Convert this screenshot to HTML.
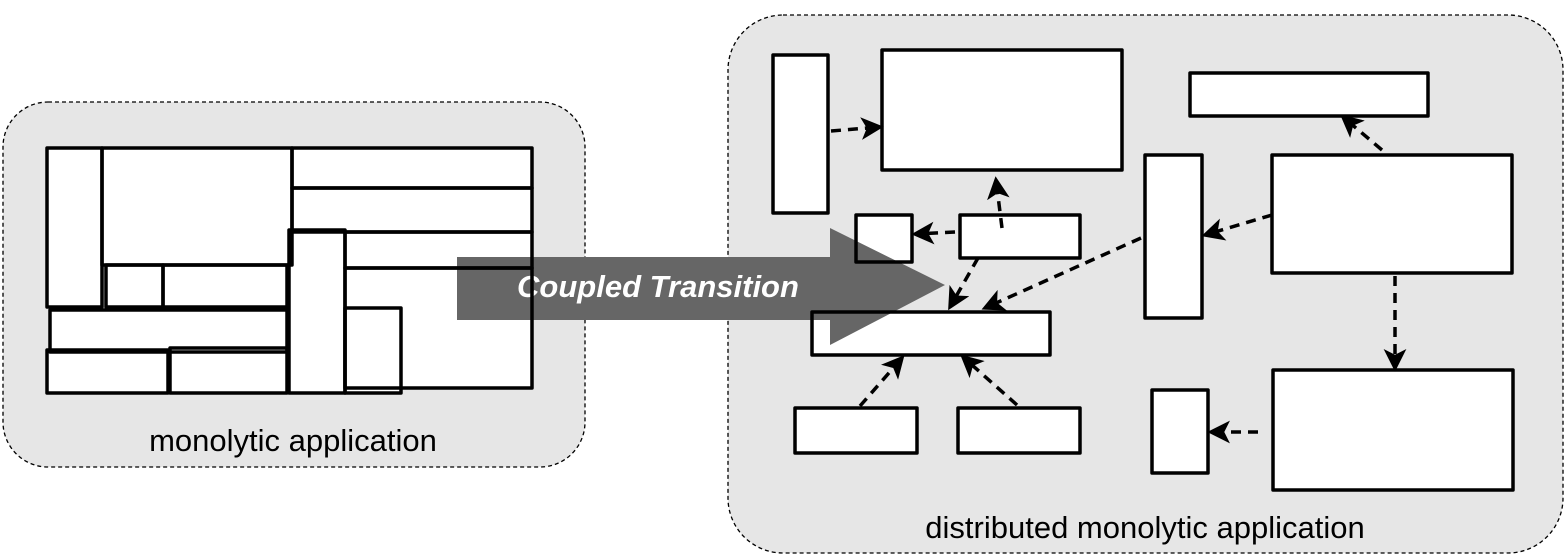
<!DOCTYPE html>
<html><head><meta charset="utf-8"><style>
html,body{margin:0;padding:0;background:#fff;}
svg{display:block;}
</style></head><body>
<svg width="1566" height="558" viewBox="0 0 1566 558" xmlns="http://www.w3.org/2000/svg">
<defs>
<marker id="ah" viewBox="0 0 12 12" refX="10" refY="6" markerWidth="6.5" markerHeight="6.5" markerUnits="strokeWidth" orient="auto">
<path d="M0,0 L12,6 L0,12 L3,6 Z" fill="#000"/>
</marker>
</defs>
<rect x="3" y="102" width="582" height="365" rx="45" fill="#e6e6e6" stroke="#000" stroke-width="1.3" stroke-dasharray="4 3"/>
<rect x="728" y="15" width="835" height="538" rx="55" fill="#e6e6e6" stroke="#000" stroke-width="1.3" stroke-dasharray="4 3"/>
<g fill="#fff" stroke="none">
<rect x="47" y="148" width="55" height="159"/><rect x="102" y="148" width="190" height="117"/>
<rect x="292" y="148" width="240" height="40"/><rect x="292" y="188" width="240" height="44"/>
<rect x="106" y="265" width="57" height="42"/><rect x="163" y="265" width="124" height="42"/>
<rect x="289" y="230" width="56" height="163"/><rect x="345" y="232" width="187" height="36"/>
<rect x="345" y="268" width="187" height="120"/><rect x="50" y="310" width="237" height="42"/>
<rect x="47" y="350" width="121" height="43"/><rect x="170" y="348" width="117" height="45"/>
<rect x="345" y="308" width="56" height="85"/>
<rect x="773" y="55" width="55" height="158"/><rect x="882" y="50" width="240" height="120"/>
<rect x="1190" y="73" width="238" height="43"/><rect x="856" y="215" width="56" height="47"/>
<rect x="960" y="215" width="120" height="43"/><rect x="1145" y="155" width="57" height="163"/>
<rect x="1272" y="155" width="240" height="118"/><rect x="812" y="312" width="238" height="43"/>
<rect x="795" y="408" width="122" height="45"/><rect x="958" y="408" width="122" height="45"/>
<rect x="1152" y="390" width="56" height="83"/><rect x="1273" y="370" width="240" height="120"/>
</g>
<path d="M457,257 L830,257 L830,228 L945,285 L830,345 L830,320 L457,320 Z" fill="#666"/>
<text x="658" y="297" font-family="Liberation Sans, sans-serif" font-size="31" font-weight="bold" font-style="italic" fill="#fff" text-anchor="middle">Coupled Transition</text>
<g fill="none" stroke="#000" stroke-width="3.5" stroke-linejoin="round">
<rect x="47" y="148" width="55" height="159"/><rect x="102" y="148" width="190" height="117"/>
<rect x="292" y="148" width="240" height="40"/><rect x="292" y="188" width="240" height="44"/>
<rect x="106" y="265" width="57" height="42"/><rect x="163" y="265" width="124" height="42"/>
<rect x="289" y="230" width="56" height="163"/><rect x="345" y="232" width="187" height="36"/>
<rect x="345" y="268" width="187" height="120"/><rect x="50" y="310" width="237" height="42"/>
<rect x="47" y="350" width="121" height="43"/><rect x="170" y="348" width="117" height="45"/>
<rect x="345" y="308" width="56" height="85"/>
<rect x="773" y="55" width="55" height="158"/><rect x="882" y="50" width="240" height="120"/>
<rect x="1190" y="73" width="238" height="43"/><rect x="856" y="215" width="56" height="47"/>
<rect x="960" y="215" width="120" height="43"/><rect x="1145" y="155" width="57" height="163"/>
<rect x="1272" y="155" width="240" height="118"/><rect x="812" y="312" width="238" height="43"/>
<rect x="795" y="408" width="122" height="45"/><rect x="958" y="408" width="122" height="45"/>
<rect x="1152" y="390" width="56" height="83"/><rect x="1273" y="370" width="240" height="120"/>
</g>
<g stroke="#000" stroke-width="3.5" stroke-dasharray="10 7" fill="none" marker-end="url(#ah)">
<line x1="831" y1="131" x2="880" y2="127"/>
<line x1="1002" y1="228" x2="996" y2="180"/>
<line x1="955" y1="232" x2="915" y2="234"/>
<line x1="978" y1="258" x2="950" y2="307"/>
<line x1="1141" y1="238" x2="985" y2="308"/>
<line x1="1272" y1="215" x2="1205" y2="235"/>
<line x1="1382" y1="150" x2="1343" y2="117"/>
<line x1="1395" y1="276" x2="1395" y2="368"/>
<line x1="1258" y1="432" x2="1211" y2="432"/>
<line x1="860" y1="406" x2="902" y2="358"/>
<line x1="1017" y1="405" x2="963" y2="357"/>
</g>
<text x="293" y="451" font-family="Liberation Sans, sans-serif" font-size="31" fill="#000" text-anchor="middle">monolytic application</text>
<text x="1145" y="538" font-family="Liberation Sans, sans-serif" font-size="31" fill="#000" text-anchor="middle">distributed monolytic application</text>
</svg>
</body></html>
